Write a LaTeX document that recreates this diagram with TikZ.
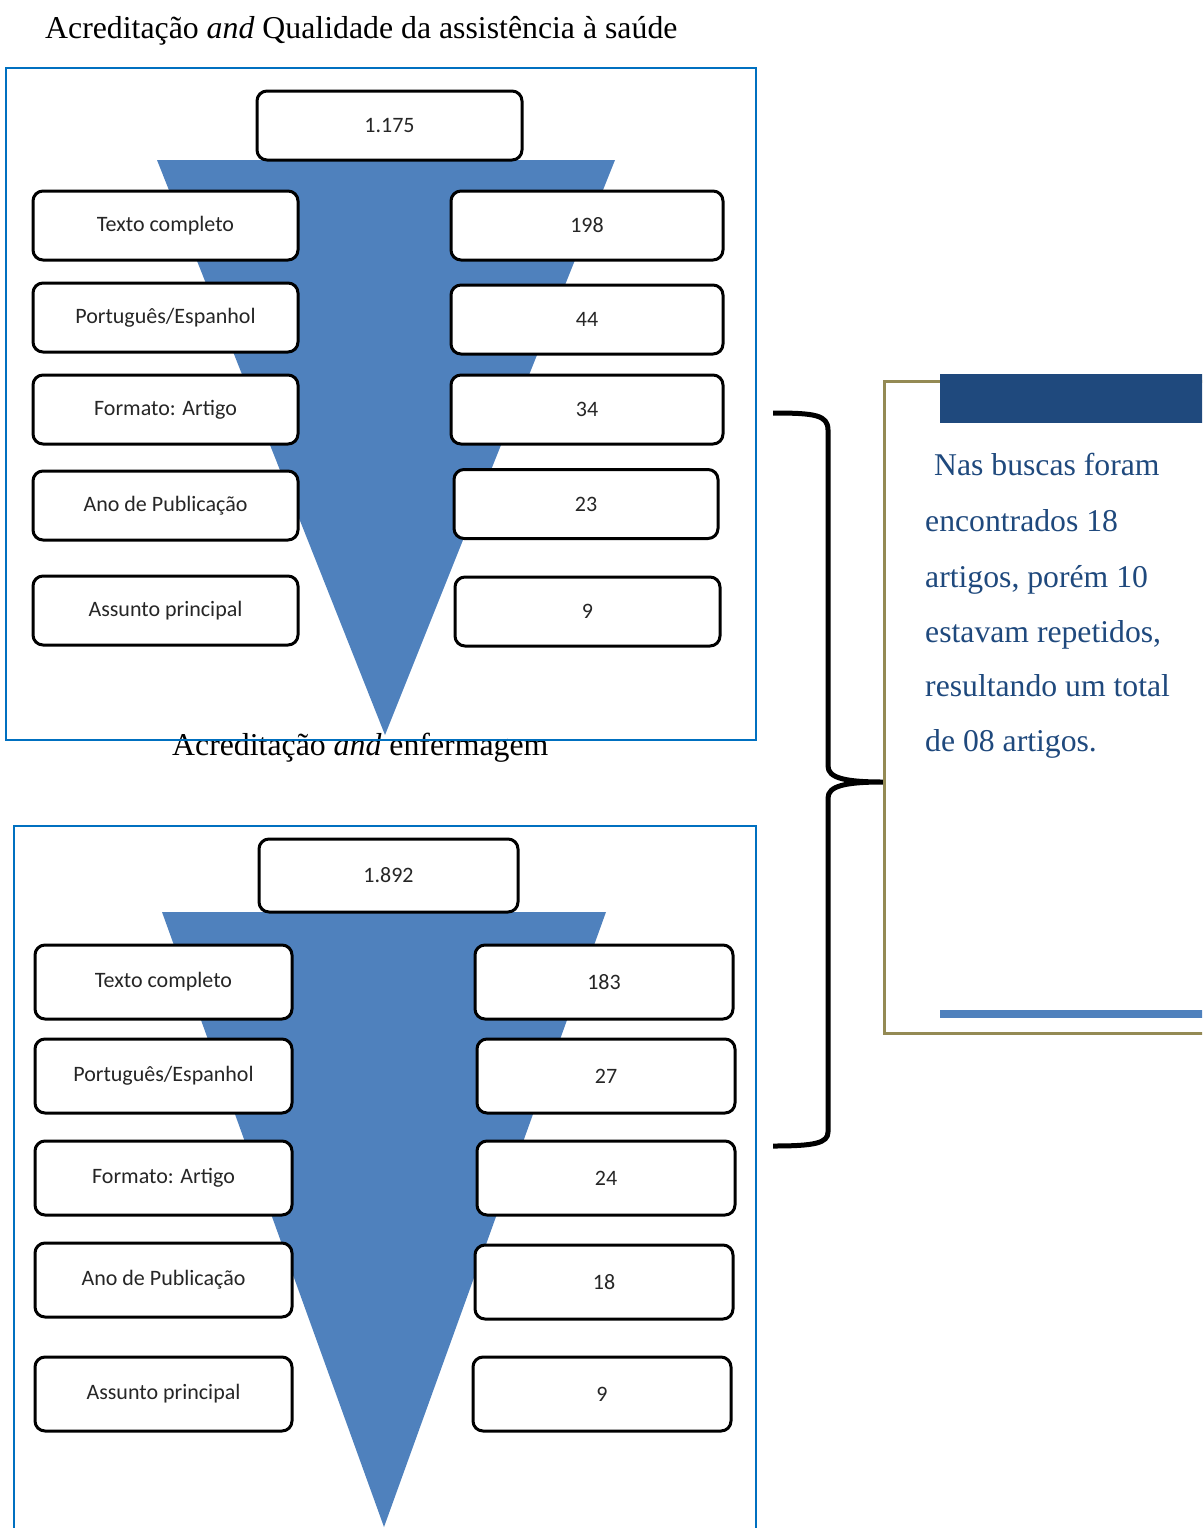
\documentclass[tikz,border=0pt]{standalone}
\usepackage{fontspec}
\setmainfont{Liberation Serif}
\newfontfamily\caixafont{Carlito}
\definecolor{funil}{HTML}{4F81BD}
\definecolor{moldura}{HTML}{0070C0}
\definecolor{ouro}{HTML}{948A54}
\definecolor{azulescuro}{HTML}{1F497D}

\tikzset{
  etapa/.style={draw=black, line width=3pt, rounded corners=10pt, fill=white,
    inner sep=0pt, text=black!85, font=\caixafont\fontsize{22}{26}\selectfont},
  painel/.style={draw=moldura, line width=2pt},
  titulo/.style={anchor=base west, inner sep=0pt, font=\fontsize{31.8}{36}\selectfont},
  linhanota/.style={anchor=base west, inner sep=0pt, text=azulescuro,
    font=\fontsize{31.7}{36}\selectfont},
}

\begin{document}
\begin{tikzpicture}[x=1pt,y=-1pt]
  \useasboundingbox (0,0) rectangle (1202,1528);
  \clip (0,0) rectangle (1202,1528);

  % titulos
  \node[titulo] (titulo1) at (45,38) {Acreditação \textit{and} Qualidade da assistência à saúde};
  \node[titulo] (titulo2) at (172,755) {Acreditação \textit{and} enfermagem};

  % paineis e funis
  \draw[painel] (6,68) rectangle (756,740);
  \draw[painel] (14,1560) |- (756,826) -- (756,1560);
  \fill[funil] (157,160) -- (615,160) -- (385,735) -- cycle;
  \fill[funil] (162,912) -- (606,912) -- (384,1527) -- cycle;

  % painel superior
  \node[etapa, minimum width=265pt, minimum height=69pt] (atotal) at (389.5,125.5) {1.175};
  \foreach \y/\rotulo/\rx/\ry/\rw/\n [count=\i] in {
      225.5/Texto completo/587/225.5/272/198,
      317.5/{Português/Espanhol}/587/319.5/272/44,
      409.5/Formato: Artigo/587/409.5/272/34,
      505.5/Ano de Publicação/586/504/264/23,
      610.5/Assunto principal/587.5/611.5/265/9} {
    \node[etapa, minimum width=265pt, minimum height=69pt] (aesq\i) at (165.5,\y) {\rotulo};
    \node[etapa, minimum width=\rw pt, minimum height=69pt] (adir\i) at (\rx,\ry) {\n};
  }

  % painel inferior
  \node[etapa, minimum width=259pt, minimum height=73pt] (btotal) at (388.5,875.5) {1.892};
  \foreach \y/\rotulo/\rx/\ry/\n [count=\i] in {
      982/Texto completo/604/982/183,
      1076/{Português/Espanhol}/606/1076/27,
      1178/Formato: Artigo/606/1178/24,
      1280/Ano de Publicação/604/1282/18,
      1394/Assunto principal/602/1394/9} {
    \node[etapa, minimum width=257pt, minimum height=74pt] (besq\i) at (163.5,\y) {\rotulo};
    \node[etapa, minimum width=258pt, minimum height=74pt] (bdir\i) at (\rx,\ry) {\n};
  }

  % chave
  \coordinate (ponta) at (883,782);
  \draw[line width=5pt, line join=round]
    (773,413) .. controls (815,413) and (828,415) .. (828,430) -- (828,766)
    .. controls (828,778) and (845,782) .. (ponta)
    .. controls (845,782) and (828,786) .. (828,798) -- (828,1132)
    .. controls (828,1143) and (815,1146) .. (773,1146);

  % quadro de nota
  \draw[draw=ouro, line width=3pt] (1220,381) -| (884,1033) -- (1220,1033);
  \fill[azulescuro] (940,374) rectangle (1220,423);
  \fill[funil] (940,1010) rectangle (1220,1018);
  \foreach \linha/\x/\y [count=\i] in {
      Nas buscas foram/934/475,
      encontrados 18/925/531,
      {artigos, porém 10}/925/587,
      {estavam repetidos,}/925/642,
      resultando um total/925/696,
      de 08 artigos./925/751} {
    \node[linhanota] (nota\i) at (\x,\y) {\linha};
  }
\end{tikzpicture}
\end{document}
